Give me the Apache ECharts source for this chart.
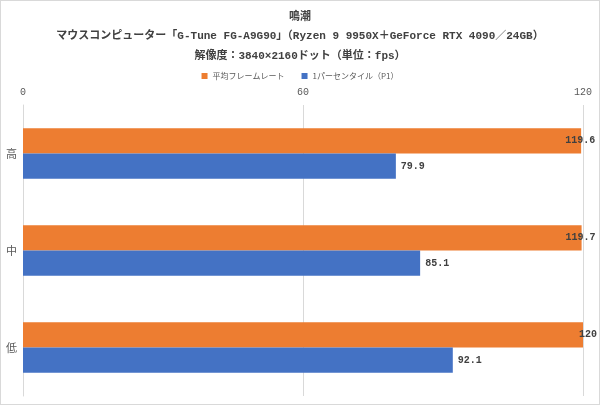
<!DOCTYPE html>
<html>
<head>
<meta charset="utf-8">
<script src="https://cdn.jsdelivr.net/npm/echarts@6/dist/echarts.min.js"></script>
<style>
  html, body { margin: 0; padding: 0; background: #fff; }
  #main { width: 598px; height: 403px; border: 1px solid #d9d9d9; }
</style>
</head>
<body>
<div id="main"></div>
<script>
// データ
var categories = ['高', '中', '低'];
var avgFps = [119.6, 119.7, 120];
var p1Fps = [79.9, 85.1, 92.1];
var seriesNames = ['平均フレームレート', '1パーセンタイル（P1）'];
var titleLines = [
  '鳴潮',
  'マウスコンピューター「G-Tune FG-A9G90」（Ryzen 9 9950X＋GeForce RTX 4090／24GB）',
  '解像度：3840×2160ドット（単位：fps）'
];

var monoFont = '"Liberation Mono", "Noto Sans CJK JP", monospace';
var jpFont = '"Noto Sans CJK JP", sans-serif';

var myChart = echarts.init(document.getElementById('main'));

function titleItem(text, top) {
  return {
    text: text, left: 'center', top: top,
    textStyle: { fontSize: 11, fontWeight: 'bold', color: '#404040', fontFamily: monoFont }
  };
}

var option = {
  animation: false,
  title: [
    titleItem(titleLines[0], 6),
    titleItem(titleLines[1], 25),
    titleItem(titleLines[2], 45)
  ],
  legend: {
    data: seriesNames,
    top: 66,
    left: 'center',
    itemWidth: 6,
    itemHeight: 6,
    itemGap: 17,
    icon: 'rect',
    textStyle: { fontSize: 8, color: '#595959', fontFamily: jpFont }
  },
  grid: { left: 22, right: 16, top: 104, bottom: 8 },
  xAxis: {
    type: 'value',
    position: 'top',
    min: 0,
    max: 120,
    interval: 60,
    axisLine: { show: false },
    axisTick: { show: false },
    axisLabel: { color: '#595959', fontSize: 10, fontFamily: monoFont, margin: 8 },
    splitLine: { lineStyle: { color: '#d9d9d9' } }
  },
  yAxis: {
    type: 'category',
    data: categories,
    inverse: true,
    axisLine: { lineStyle: { color: '#d9d9d9' } },
    axisTick: { show: false },
    axisLabel: { color: '#595959', fontSize: 11, margin: 6, rotate: 0, fontFamily: jpFont }
  },
  series: [
    {
      name: seriesNames[0],
      type: 'bar',
      data: avgFps,
      barGap: '0%',
      barCategoryGap: '48%',
      itemStyle: { color: '#ED7D31' },
      label: {
        show: true, position: 'right', distance: 14, align: 'right',
        color: '#404040', fontSize: 10, fontWeight: 'bold', fontFamily: monoFont
      }
    },
    {
      name: seriesNames[1],
      type: 'bar',
      data: p1Fps,
      itemStyle: { color: '#4472C4' },
      label: {
        show: true, position: 'right', distance: 5,
        color: '#404040', fontSize: 10, fontWeight: 'bold', fontFamily: monoFont
      }
    }
  ]
};

myChart.setOption(option);
</script>
</body>
</html>
